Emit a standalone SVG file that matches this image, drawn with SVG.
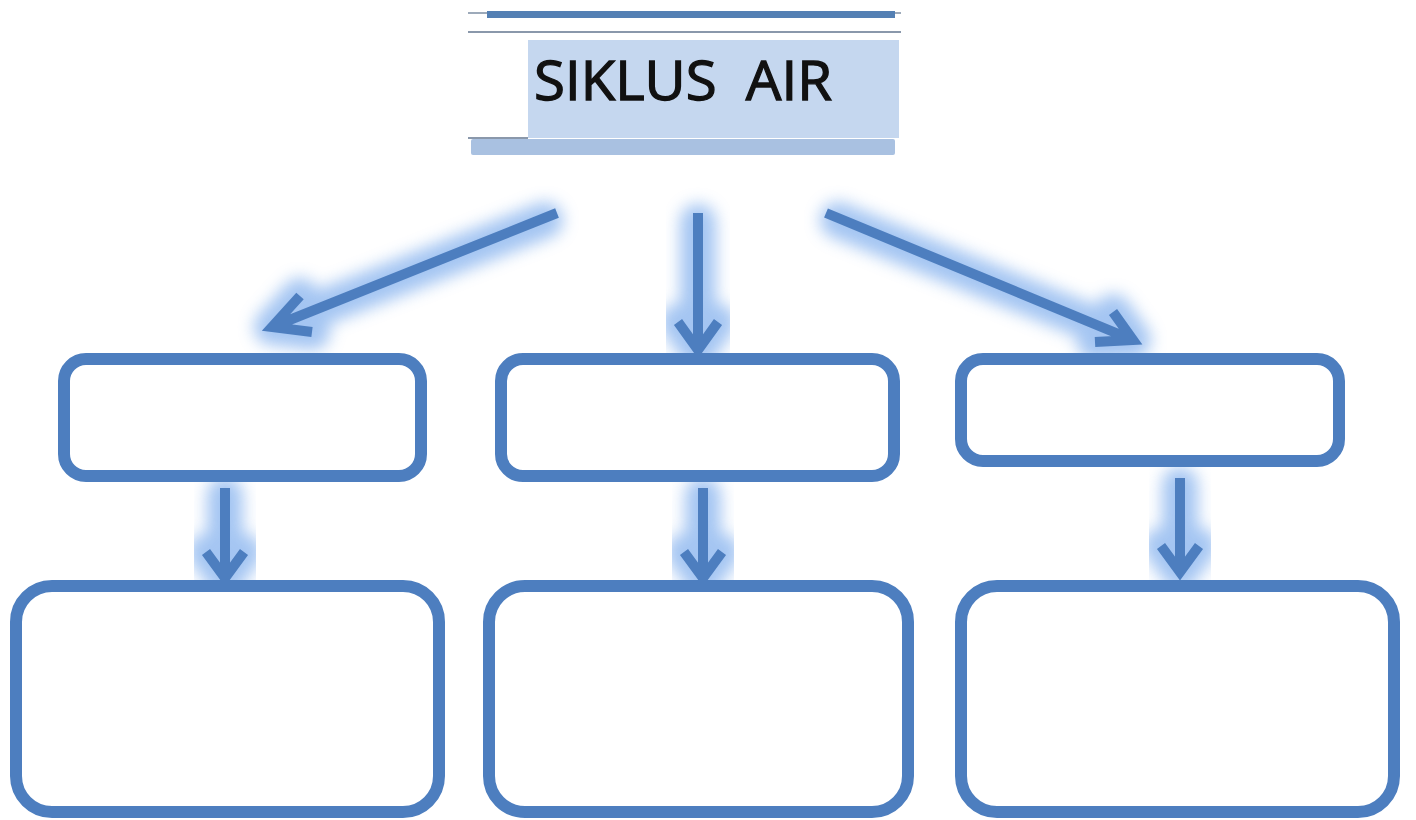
<svg xmlns="http://www.w3.org/2000/svg" width="1416" height="820" viewBox="0 0 1416 820">
  <defs>
    <style>
      .box { fill: #ffffff; stroke: #4d7ebf; stroke-width: 12; }
      .wire { fill: none; stroke: #4d7ebf; stroke-width: 10; stroke-linecap: butt; stroke-linejoin: miter; }
      .halo { fill: none; stroke: #86b2ee; stroke-width: 36; stroke-linecap: round; stroke-linejoin: round; opacity: 0.75; filter: url(#soft); }
      .title { font-family: "Open Sans", "Liberation Sans", sans-serif; font-size: 54px; fill: #111111; stroke: #111111; stroke-width: 1.3; white-space: pre; }
    </style>
    <filter id="soft" x="-30%" y="-30%" width="160%" height="160%">
      <feGaussianBlur stdDeviation="8"/>
    </filter>
  </defs>

  <rect width="1416" height="820" fill="#ffffff"/>

  <!-- title banner -->
  <g id="title">
    <line x1="468" y1="13" x2="901" y2="13" stroke="#7d8ea3" stroke-width="1.5"/>
    <rect x="487" y="11" width="408" height="7" fill="#5480b4"/>
    <line x1="468" y1="32" x2="901" y2="32" stroke="#8a98ab" stroke-width="2"/>
    <rect x="528" y="40" width="371" height="98" fill="#c5d7ef"/>
    <line x1="468" y1="138" x2="528" y2="138" stroke="#8a98ab" stroke-width="2"/>
    <rect x="471" y="139" width="424" height="16" rx="2" fill="#a9c1e1"/>
    <text class="title" x="534" y="100" xml:space="preserve" textLength="298" lengthAdjust="spacingAndGlyphs">SIKLUS  AIR</text>
  </g>

  <!-- connectors: soft glow underneath, solid line on top -->
  <g id="connectors">
    <g class="glow">
      <path class="halo" d="M545 220 L272 327 M300 296 L272 327 L312 332"/>
      <path class="halo" d="M698 222 V350 M678 322 L698 350 L718 322"/>
      <path class="halo" d="M838 220 L1133 340 M1095 342 L1133 340 L1113 312"/>
      <path class="halo" d="M225 495 V578 M206 552 L225 578 L244 552"/>
      <path class="halo" d="M703 495 V578 M684 552 L703 578 L722 552"/>
      <path class="halo" d="M1180 485 V572 M1161 546 L1180 572 L1199 546"/>
    </g>
    <path class="wire" d="M557 213 L272 327 M300 296 L272 327 L312 332"/>
    <path class="wire" d="M698 213 V350 M678 322 L698 350 L718 322"/>
    <path class="wire" d="M826 213 L1133 340 M1095 342 L1133 340 L1113 312"/>
    <path class="wire" d="M225 488 V578 M206 552 L225 578 L244 552"/>
    <path class="wire" d="M703 488 V578 M684 552 L703 578 L722 552"/>
    <path class="wire" d="M1180 478 V572 M1161 546 L1180 572 L1199 546"/>
  </g>

  <!-- first row -->
  <g id="box-a1"><rect class="box" x="64" y="359" width="357" height="117" rx="22"/></g>
  <g id="box-b1"><rect class="box" x="501" y="359" width="393" height="117" rx="22"/></g>
  <g id="box-c1"><rect class="box" x="961" y="359" width="378" height="102" rx="22"/></g>

  <!-- second row -->
  <g id="box-a2"><rect class="box" x="16" y="586" width="423" height="226" rx="36"/></g>
  <g id="box-b2"><rect class="box" x="489" y="586" width="419" height="226" rx="36"/></g>
  <g id="box-c2"><rect class="box" x="961" y="586" width="433" height="226" rx="36"/></g>
</svg>
